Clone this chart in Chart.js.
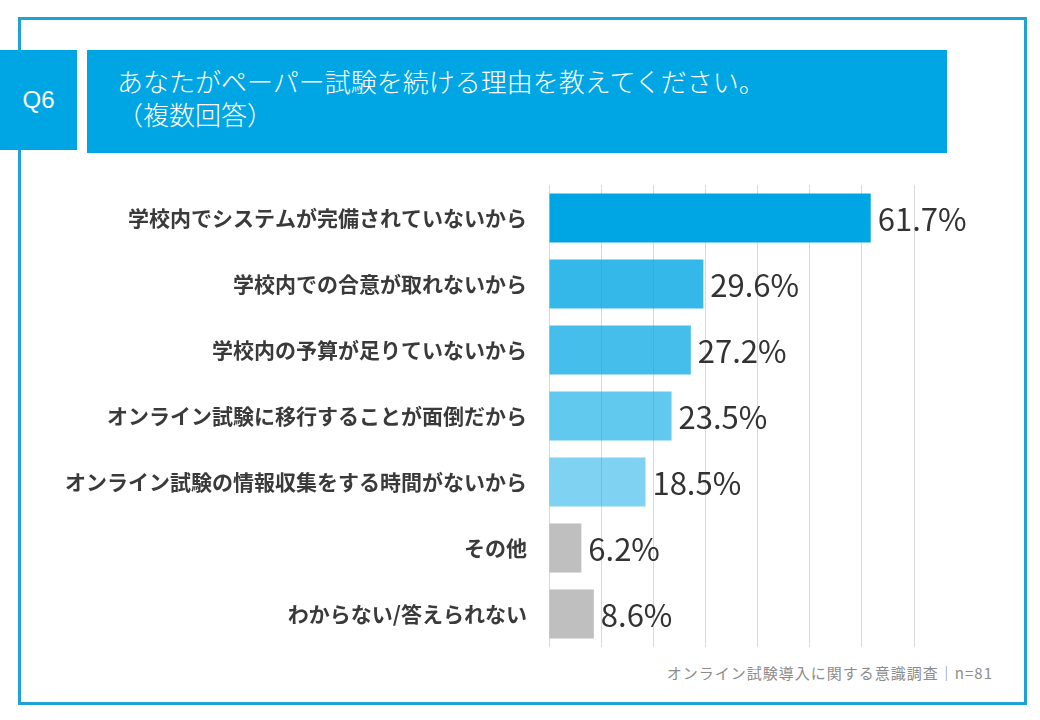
<!DOCTYPE html>
<html lang="ja">
<head>
<meta charset="utf-8">
<script src="https://cdn.jsdelivr.net/npm/chart.js@4.4.1/dist/chart.umd.min.js"></script>
<style>
  html, body { margin: 0; padding: 0; background: #fff; }
  body { width: 1040px; height: 720px; position: relative; overflow: hidden; font-family: 'Noto Sans CJK JP', sans-serif; }
  .frame { position: absolute; left: 18px; top: 17px; width: 1003px; height: 682px; border: 3px solid #1ea2d8; box-sizing: content-box; }
  .qbox { position: absolute; left: 0; top: 50px; width: 77px; height: 100px; background: #00a6e4; color: #fff;
    font-family: 'Liberation Sans', Arial, sans-serif; font-size: 24px; line-height: 100px; text-align: center; }
  .titlebar { position: absolute; left: 87px; top: 50px; width: 860px; height: 103px; background: #00a6e4; color: #fff; }
  .titlebar .t { position: absolute; left: 30px; top: 14px; font-size: 26px; line-height: 33px; font-weight: 300; }
  .footer { position: absolute; right: 47px; top: 662px; font-size: 15px; color: #8c8c8c; letter-spacing: 1px; }
  #wrap { position: absolute; left: 20px; top: 175px; width: 1000px; height: 480px; }
</style>
</head>
<body>
<div class="frame"></div>
<div class="qbox">Q6</div>
<div class="titlebar"><div class="t">あなたがペーパー試験を続ける理由を教えてください。<br>（複数回答）</div></div>
<div class="footer">オンライン試験導入に関する意識調査｜n=81</div>
<div id="wrap"><canvas id="chart"></canvas></div>
<script>
// データ
const categories = [
  '学校内でシステムが完備されていないから',
  '学校内での合意が取れないから',
  '学校内の予算が足りていないから',
  'オンライン試験に移行することが面倒だから',
  'オンライン試験の情報収集をする時間がないから',
  'その他',
  'わからない/答えられない'
]
const values = [61.7, 29.6, 27.2, 23.5, 18.5, 6.2, 8.6]
const barColors = [
  'rgba(0,166,228,1)',
  'rgba(0,166,228,0.8)',
  'rgba(0,166,228,0.73)',
  'rgba(0,166,228,0.62)',
  'rgba(0,166,228,0.5)',
  'rgba(160,160,160,0.68)',
  'rgba(160,160,160,0.68)'
]
const xTicks = [0, 10, 20, 30, 40, 50, 60, 70]

// 数値ラベル
const valueLabels = {
  id: 'valueLabels',
  afterDatasetsDraw(chart) {
    const { ctx } = chart
    const meta = chart.getDatasetMeta(0)
    ctx.save()
    ctx.font = "400 31px 'Noto Sans CJK JP', sans-serif"
    ctx.fillStyle = '#333333'
    ctx.textAlign = 'left'
    ctx.textBaseline = 'middle'
    meta.data.forEach((bar, i) => {
      ctx.fillText(values[i].toFixed(1) + '%', bar.x + 7, bar.y + 1)
    })
    ctx.restore()
  }
}

new Chart(document.getElementById('chart').getContext('2d'), {
  type: 'bar',
  data: {
    labels: categories,
    datasets: [{
      data: values,
      backgroundColor: barColors,
      borderWidth: 0,
      barPercentage: 0.742,
      categoryPercentage: 1
    }]
  },
  options: {
    indexAxis: 'y',
    responsive: true,
    maintainAspectRatio: false,
    animation: false,
    layout: { padding: { top: 10, bottom: 8, right: 106, left: 0 } },
    plugins: { legend: { display: false }, tooltip: { enabled: false } },
    scales: {
      x: {
        min: 0,
        max: 70,
        afterBuildTicks: scale => { scale.ticks = xTicks.map(v => ({ value: v })) },
        afterFit: scale => { scale.height = 0; scale.paddingLeft = 0; scale.paddingRight = 0 },
        ticks: { display: false },
        grid: { color: '#d9d9d9', lineWidth: 1, drawTicks: false },
        border: { display: false }
      },
      y: {
        afterFit: scale => { scale.width = 529; scale.paddingTop = 0; scale.paddingBottom = 0 },
        grid: { display: false, drawTicks: false },
        border: { display: false },
        ticks: {
          padding: 22,
          color: '#3a3a3a',
          font: { family: "'Noto Sans CJK JP', sans-serif", size: 21, weight: 'bold' }
        }
      }
    }
  },
  plugins: [valueLabels]
})
</script>
</body>
</html>
